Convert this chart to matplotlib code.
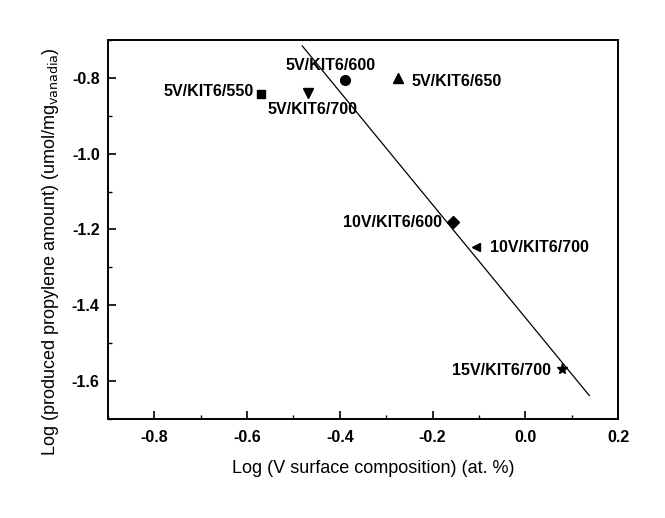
import matplotlib
matplotlib.use("Agg")
import matplotlib.pyplot as plt
from matplotlib.ticker import MultipleLocator

plt.rcParams['font.family'] = ['Liberation Sans', 'DejaVu Sans']

# ---- data ----
samples = ["5V/KIT6/550", "5V/KIT6/700", "5V/KIT6/600", "5V/KIT6/650",
           "10V/KIT6/600", "10V/KIT6/700", "15V/KIT6/700"]
log_v_surface = [-0.569, -0.469, -0.388, -0.274, -0.156, -0.106, 0.080]
log_propylene = [-0.844, -0.839, -0.807, -0.800, -1.179, -1.245, -1.568]
fit_x = [-0.481, 0.138]
fit_y = [-0.716, -1.638]
x_ticks = [-0.8, -0.6, -0.4, -0.2, 0.0, 0.2]
y_ticks = [-0.8, -1.0, -1.2, -1.4, -1.6]

# ---- styles ----
markers = ['s', 'v', 'o', '^', 'D', '<', '*']
msizes = [5.5, 7, 7, 7, 6, 6, 8]
label_offsets = [(-5.6, 2.4, 'right'), (3.7, -12, 'center'), (-11, 11, 'center'),
                 (9.3, -2.4, 'left'), (-8, -0.7, 'right'), (10, -0.5, 'left'),
                 (-8.3, -1.2, 'right')]

fig = plt.figure(figsize=(6.65, 5.18), dpi=100)
ax = fig.add_axes([0.1624, 0.191, 0.767, 0.732])

ax.plot(fit_x, fit_y, color='black', lw=0.9)
for x, y, m, ms, name, (dx, dy, ha) in zip(log_v_surface, log_propylene, markers,
                                            msizes, samples, label_offsets):
    ax.plot([x], [y], marker=m, ms=ms, color='black', linestyle='none')
    ax.annotate(name, (x, y), xytext=(dx, dy), textcoords='offset points',
                ha=ha, va='center', fontsize=11.5, fontweight='bold')

ax.set_xlim(-0.9, 0.2)
ax.set_ylim(-1.7, -0.7)
ax.set_xticks(x_ticks)
ax.set_yticks(y_ticks)
ax.set_xticklabels([f"{v:.1f}" for v in x_ticks], fontsize=11.5, fontweight='bold')
ax.set_yticklabels([f"{v:.1f}" for v in y_ticks], fontsize=11.5, fontweight='bold')
ax.xaxis.set_minor_locator(MultipleLocator(0.1))
ax.yaxis.set_minor_locator(MultipleLocator(0.1))
ax.tick_params(which='major', direction='in', length=5.5, width=1.2, top=False, right=False)
ax.tick_params(which='minor', direction='in', length=2.6, width=1.0, top=False, right=False)
ax.tick_params(axis='x', which='major', pad=8)
ax.tick_params(axis='y', which='major', pad=6)
for s in ax.spines.values():
    s.set_linewidth(1.4)

ax.set_xlabel("Log (V surface composition) (at. %)", fontsize=13)
ax.set_ylabel(r"Log (produced propylene amount) (umol/mg$_{\mathrm{vanadia}}$)", fontsize=13)
ax.xaxis.set_label_coords(0.52, -0.108)
ax.yaxis.set_label_coords(-0.092, 0.443)

fig.savefig("out.png", dpi=100)
